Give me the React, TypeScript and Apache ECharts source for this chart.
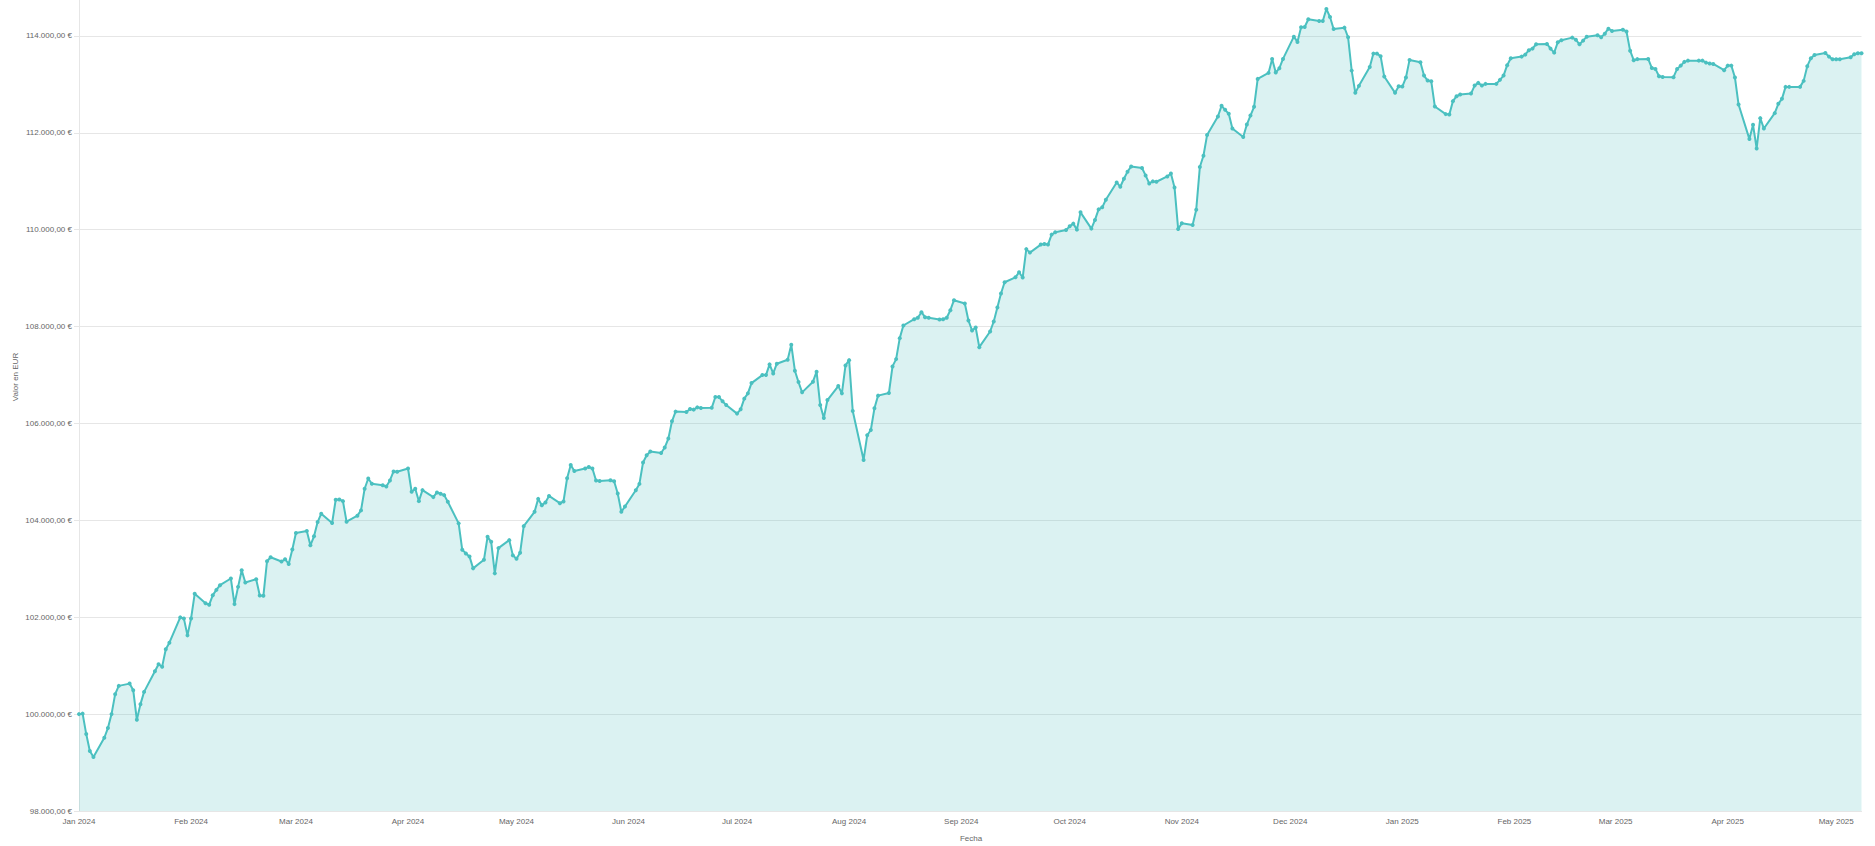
import React, { useEffect, useRef } from "react";
import * as echarts from "echarts";

// Trading days (x categories)
const dates: string[] = [
  "2024-01-01","2024-01-02","2024-01-03","2024-01-04","2024-01-05","2024-01-08","2024-01-09","2024-01-10","2024-01-11","2024-01-12","2024-01-15","2024-01-16","2024-01-17","2024-01-18","2024-01-19","2024-01-22","2024-01-23","2024-01-24","2024-01-25","2024-01-26","2024-01-29","2024-01-30","2024-01-31",
  "2024-02-01","2024-02-02","2024-02-05","2024-02-06","2024-02-07","2024-02-08","2024-02-09","2024-02-12","2024-02-13","2024-02-14","2024-02-15","2024-02-16","2024-02-19","2024-02-20","2024-02-21","2024-02-22","2024-02-23","2024-02-26","2024-02-27","2024-02-28","2024-02-29",
  "2024-03-01","2024-03-04","2024-03-05","2024-03-06","2024-03-07","2024-03-08","2024-03-11","2024-03-12","2024-03-13","2024-03-14","2024-03-15","2024-03-18","2024-03-19","2024-03-20","2024-03-21","2024-03-22","2024-03-25","2024-03-26","2024-03-27","2024-03-28","2024-03-29",
  "2024-04-01","2024-04-02","2024-04-03","2024-04-04","2024-04-05","2024-04-08","2024-04-09","2024-04-10","2024-04-11","2024-04-12","2024-04-15","2024-04-16","2024-04-17","2024-04-18","2024-04-19","2024-04-22","2024-04-23","2024-04-24","2024-04-25","2024-04-26","2024-04-29","2024-04-30",
  "2024-05-01","2024-05-02","2024-05-03","2024-05-06","2024-05-07","2024-05-08","2024-05-09","2024-05-10","2024-05-13","2024-05-14","2024-05-15","2024-05-16","2024-05-17","2024-05-20","2024-05-21","2024-05-22","2024-05-23","2024-05-24","2024-05-27","2024-05-28","2024-05-29","2024-05-30","2024-05-31",
  "2024-06-03","2024-06-04","2024-06-05","2024-06-06","2024-06-07","2024-06-10","2024-06-11","2024-06-12","2024-06-13","2024-06-14","2024-06-17","2024-06-18","2024-06-19","2024-06-20","2024-06-21","2024-06-24","2024-06-25","2024-06-26","2024-06-27","2024-06-28",
  "2024-07-01","2024-07-02","2024-07-03","2024-07-04","2024-07-05","2024-07-08","2024-07-09","2024-07-10","2024-07-11","2024-07-12","2024-07-15","2024-07-16","2024-07-17","2024-07-18","2024-07-19","2024-07-22","2024-07-23","2024-07-24","2024-07-25","2024-07-26","2024-07-29","2024-07-30","2024-07-31",
  "2024-08-01","2024-08-02","2024-08-05","2024-08-06","2024-08-07","2024-08-08","2024-08-09","2024-08-12","2024-08-13","2024-08-14","2024-08-15","2024-08-16","2024-08-19","2024-08-20","2024-08-21","2024-08-22","2024-08-23","2024-08-26","2024-08-27","2024-08-28","2024-08-29","2024-08-30",
  "2024-09-02","2024-09-03","2024-09-04","2024-09-05","2024-09-06","2024-09-09","2024-09-10","2024-09-11","2024-09-12","2024-09-13","2024-09-16","2024-09-17","2024-09-18","2024-09-19","2024-09-20","2024-09-23","2024-09-24","2024-09-25","2024-09-26","2024-09-27","2024-09-30",
  "2024-10-01","2024-10-02","2024-10-03","2024-10-04","2024-10-07","2024-10-08","2024-10-09","2024-10-10","2024-10-11","2024-10-14","2024-10-15","2024-10-16","2024-10-17","2024-10-18","2024-10-21","2024-10-22","2024-10-23","2024-10-24","2024-10-25","2024-10-28","2024-10-29","2024-10-30","2024-10-31",
  "2024-11-01","2024-11-04","2024-11-05","2024-11-06","2024-11-07","2024-11-08","2024-11-11","2024-11-12","2024-11-13","2024-11-14","2024-11-15","2024-11-18","2024-11-19","2024-11-20","2024-11-21","2024-11-22","2024-11-25","2024-11-26","2024-11-27","2024-11-28","2024-11-29",
  "2024-12-02","2024-12-03","2024-12-04","2024-12-05","2024-12-06","2024-12-09","2024-12-10","2024-12-11","2024-12-12","2024-12-13","2024-12-16","2024-12-17","2024-12-18","2024-12-19","2024-12-20","2024-12-23","2024-12-24","2024-12-25","2024-12-26","2024-12-27","2024-12-30","2024-12-31",
  "2025-01-01","2025-01-02","2025-01-03","2025-01-06","2025-01-07","2025-01-08","2025-01-09","2025-01-10","2025-01-13","2025-01-14","2025-01-15","2025-01-16","2025-01-17","2025-01-20","2025-01-21","2025-01-22","2025-01-23","2025-01-24","2025-01-27","2025-01-28","2025-01-29","2025-01-30","2025-01-31",
  "2025-02-03","2025-02-04","2025-02-05","2025-02-06","2025-02-07","2025-02-10","2025-02-11","2025-02-12","2025-02-13","2025-02-14","2025-02-17","2025-02-18","2025-02-19","2025-02-20","2025-02-21","2025-02-24","2025-02-25","2025-02-26","2025-02-27","2025-02-28",
  "2025-03-03","2025-03-04","2025-03-05","2025-03-06","2025-03-07","2025-03-10","2025-03-11","2025-03-12","2025-03-13","2025-03-14","2025-03-17","2025-03-18","2025-03-19","2025-03-20","2025-03-21","2025-03-24","2025-03-25","2025-03-26","2025-03-27","2025-03-28","2025-03-31",
  "2025-04-01","2025-04-02","2025-04-03","2025-04-04","2025-04-07","2025-04-08","2025-04-09","2025-04-10","2025-04-11","2025-04-14","2025-04-15","2025-04-16","2025-04-17","2025-04-18","2025-04-21","2025-04-22","2025-04-23","2025-04-24","2025-04-25","2025-04-28","2025-04-29","2025-04-30",
  "2025-05-01","2025-05-02","2025-05-05","2025-05-06","2025-05-07","2025-05-08",
];

// Portfolio value in EUR, one per trading day
const values: number[] = [
  100000,100010,99588,99238,99115,99512,99712,100000,100412,100583,100630,100494,99883,100206,100459,100885,101029,100980,101338,101474,101997,101976,101626,
  101976,102483,102291,102256,102456,102565,102662,102800,102271,102627,102971,102717,102785,102450,102442,103156,103238,103150,103197,103100,103397,
  103739,103780,103485,103671,103965,104138,103945,104426,104432,104397,103973,104097,104206,104653,104865,104756,104727,104700,104824,105009,105003,
  105071,104591,104653,104397,104624,104480,104576,104550,104521,104385,103938,103392,103318,103256,103009,103186,103660,103557,102906,103427,103592,103277,
  103207,103331,103881,104176,104444,104314,104369,104505,104355,104390,104870,105144,105021,105070,105103,105070,104823,104814,104829,104808,104555,104176,104287,
  104623,104753,105194,105344,105420,105392,105503,105688,106045,106245,106237,106298,106286,106333,106319,106323,106546,106546,106457,106381,
  106204,106292,106513,106622,106834,106999,106999,107220,107034,107234,107317,107626,107090,106855,106643,106863,107069,106381,106113,106484,106772,106622,107199,
  107308,106257,105247,105756,105866,106313,106575,106628,107178,107329,107762,108023,108153,108182,108298,108195,108182,108147,108153,108182,108339,108545,
  108477,108127,107920,107982,107576,107900,108106,108394,108683,108916,109017,109122,109013,109600,109528,109693,109707,109693,109899,109946,109996,
  110070,110126,110002,110359,110023,110202,110420,110462,110620,110977,110888,111053,111197,111307,111274,111121,110956,110998,110991,111101,111162,110874,110016,
  110132,110099,110414,111294,111527,111954,112337,112558,112475,112393,112090,111913,112172,112358,112537,113114,113238,113526,113244,113335,113526,
  113986,113877,114180,114186,114345,114310,114310,114557,114392,114145,114172,113974,113285,112826,112970,113361,113636,113636,113582,113162,112826,112964,
  112955,113141,113506,113458,113182,113079,113067,112543,112387,112378,112655,112757,112791,112811,112976,113032,112976,113011,113011,113094,113182,113397,113541,
  113574,113615,113706,113739,113829,113835,113739,113656,113871,113912,113966,113924,113829,113904,113986,114015,113974,114048,114151,114103,
  114130,114093,113697,113500,113522,113526,113341,113320,113170,113155,113149,113320,113388,113465,113491,113491,113491,113450,113430,113423,113293,
  113388,113388,113141,112585,111871,112166,111678,112304,112090,112407,112599,112702,112949,112949,112949,113073,113376,113541,113609,113650,113574,113520,
  113520,113520,113561,113623,113644,113644,
];

// X-axis tick labels (month starts)
const monthTicks: string[] = [
  "2024-01-01","2024-02-01","2024-03-01","2024-04-01","2024-05-01","2024-06-01","2024-07-01","2024-08-01","2024-09-01",
  "2024-10-01","2024-11-01","2024-12-01","2025-01-01","2025-02-01","2025-03-01","2025-04-01","2025-05-01",
];
const monthNames: string[] = ["Jan","Feb","Mar","Apr","May","Jun","Jul","Aug","Sep","Oct","Nov","Dec"];

const yMin = 98000;
const yMax = 114784;
const yStep = 2000;
const xStart = "2024-01-01";
const xEnd = "2025-05-08";

const yTitle = "Valor en EUR";
const xTitle = "Fecha";

const FONT = "'Liberation Sans', Arial, Helvetica, sans-serif";
const TEXT_COLOR = "#666";
const GRID_COLOR = "#e6e6e6";
const LINE_COLOR = "#4bc0c0";

// The chart canvas is shifted up so the (unlabelled) top edge of the value axis sits just above the page.
const SHIFT = 10;

const ts = (d: string) => Date.parse(d + "T00:00:00Z");

const fmtEUR = (v: number) => {
  const fixed = Math.abs(v).toFixed(2);
  const [intPart, dec] = fixed.split(".");
  const withSep = intPart.replace(/\B(?=(\d{3})+(?!\d))/g, ".");
  return `${v < 0 ? "-" : ""}${withSep},${dec} €`;
};

const fmtMonth = (v: number) => {
  const d = new Date(v);
  return `${monthNames[d.getUTCMonth()]} ${d.getUTCFullYear()}`;
};

export default function App() {
  const ref = useRef<HTMLDivElement>(null);

  useEffect(() => {
    if (!ref.current) return;
    const chart = echarts.init(ref.current, undefined, { renderer: "svg" });
    const seriesData = dates.map((d, i) => [ts(d), values[i]]);

    chart.setOption({
      animation: false,
      backgroundColor: "#ffffff",
      grid: { left: 79, right: 13.5, top: SHIFT - 2, bottom: 35, containLabel: false },
      xAxis: {
        type: "value",
        min: ts(xStart),
        max: ts(xEnd),
        axisLine: { show: true, lineStyle: { color: GRID_COLOR, width: 1 } },
        axisTick: { show: false },
        splitLine: { show: false },
        axisLabel: {
          customValues: monthTicks.map(ts),
          formatter: (v: number) => fmtMonth(v),
          color: TEXT_COLOR,
          fontSize: 8,
          fontFamily: FONT,
          margin: 6,
          hideOverlap: false,
        },
      },
      yAxis: {
        type: "value",
        min: yMin,
        max: yMax,
        interval: yStep,
        axisLine: { show: true, lineStyle: { color: GRID_COLOR, width: 1 } },
        axisTick: { show: true, length: 5, lineStyle: { color: GRID_COLOR } },
        splitLine: { show: true, showMaxLine: false, lineStyle: { color: GRID_COLOR, width: 1 } },
        axisLabel: {
          formatter: (v: number) => (v % yStep === 0 ? fmtEUR(v) : ""),
          showMaxLabel: false,
          color: TEXT_COLOR,
          fontSize: 8,
          fontFamily: FONT,
          margin: 7,
        },
      },
      graphic: [
        {
          type: "text",
          x: 15,
          y: 377 + SHIFT,
          rotation: Math.PI / 2,
          style: {
            text: yTitle,
            fill: TEXT_COLOR,
            font: `8px ${FONT}`,
            align: "center",
            verticalAlign: "middle",
          },
        },
        {
          type: "text",
          x: 971,
          y: 838 + SHIFT,
          style: {
            text: xTitle,
            fill: TEXT_COLOR,
            font: `8px ${FONT}`,
            align: "center",
            verticalAlign: "middle",
          },
        },
      ],
      series: [
        {
          type: "line",
          data: seriesData,
          showSymbol: true,
          symbol: "circle",
          symbolSize: 4,
          lineStyle: { color: LINE_COLOR, width: 2 },
          itemStyle: { color: LINE_COLOR },
          areaStyle: { color: "rgba(75,192,192,0.2)", opacity: 1, origin: "start" },
          emphasis: { disabled: true },
        },
      ],
    });

    return () => chart.dispose();
  }, []);

  return (
    <div
      ref={ref}
      style={{ position: "fixed", left: 0, top: -SHIFT, width: 1875, height: 846 + SHIFT }}
    />
  );
}
